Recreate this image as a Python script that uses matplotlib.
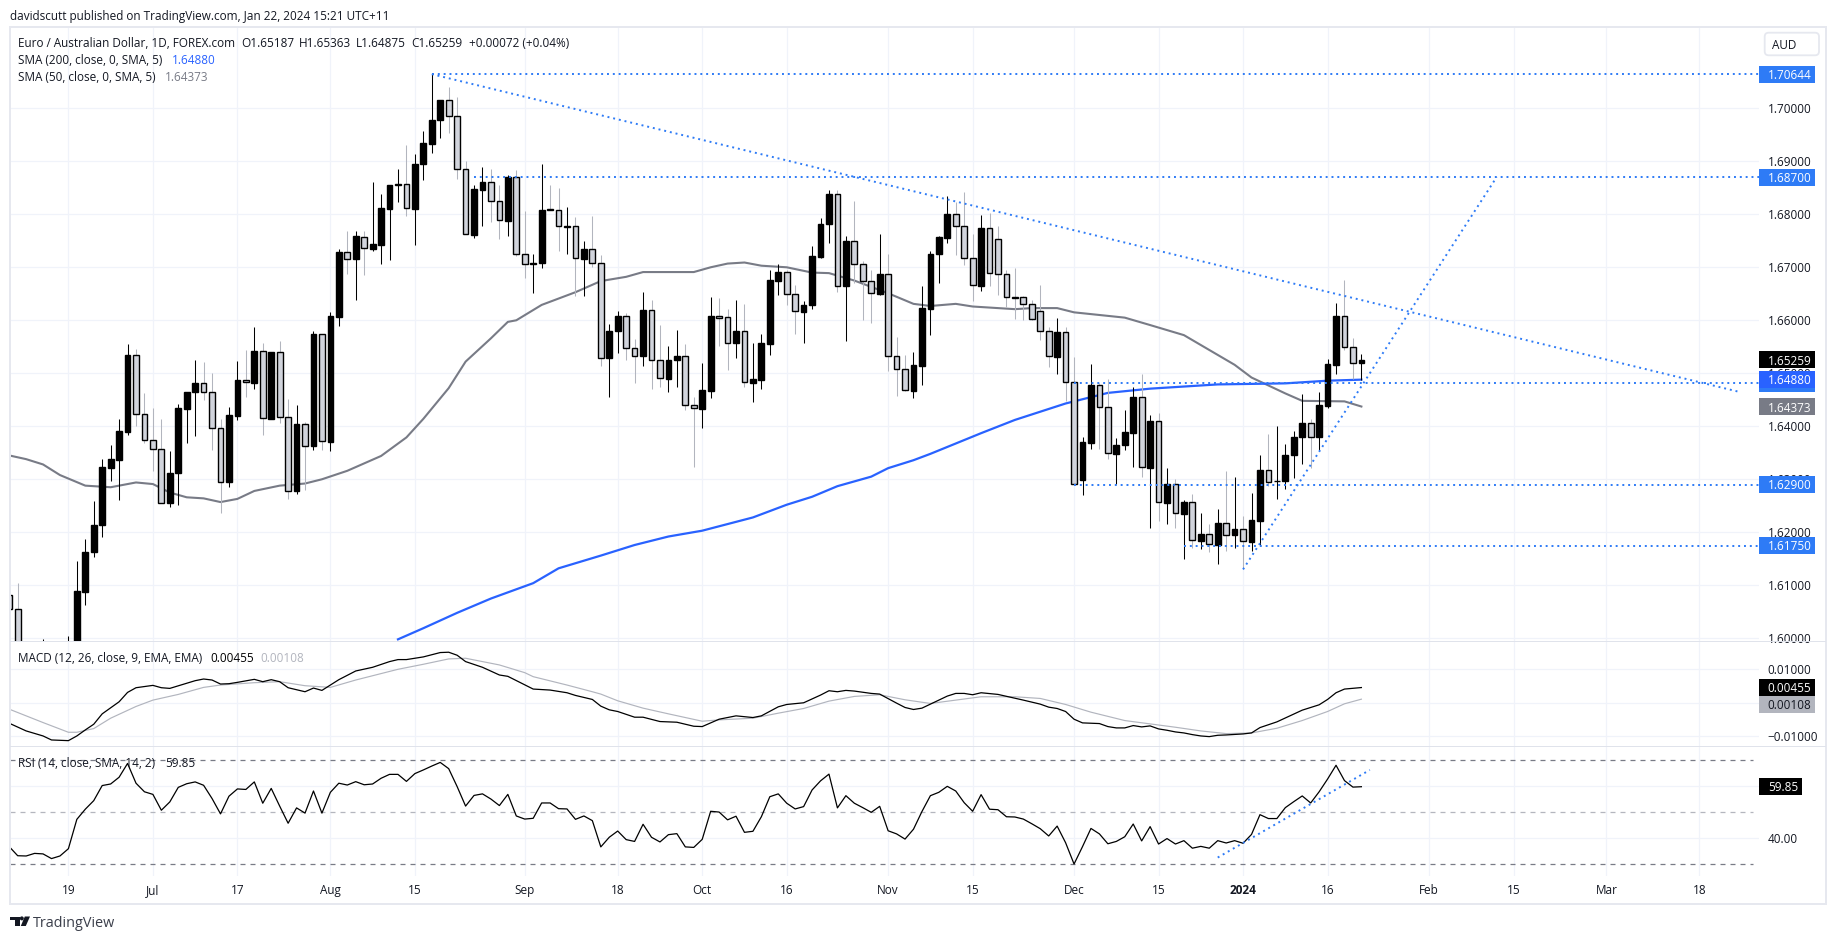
import numpy as np
import matplotlib
matplotlib.use("Agg")
import matplotlib.pyplot as plt
from matplotlib.patches import Rectangle, FancyBboxPatch, Polygon, Circle

W, H = 1835, 939
FONT = "Open Sans"
plt.rcParams["font.family"] = [FONT, "DejaVu Sans"]

# daily candles, first entry is bar -7 (bar 0 is Jun 19)
first_bar = -7
opens = [
    1.6081, 1.6055, 1.5960, 1.5945, 1.5930, 1.5960, 1.5950, 1.5940,
    1.5972, 1.6088, 1.6162, 1.6213, 1.6322, 1.6337, 1.6390, 1.6535, 1.6423, 1.6374,
    1.6357, 1.6256, 1.6311, 1.6433, 1.6464, 1.6481, 1.6464, 1.6396, 1.6294, 1.6420,
    1.6487, 1.6482, 1.6542, 1.6414, 1.6540, 1.6417, 1.6277, 1.6404, 1.6362, 1.6574,
    1.6371, 1.6607, 1.6728, 1.6716, 1.6758, 1.6735, 1.6742, 1.6810, 1.6855, 1.6857,
    1.6810, 1.6894, 1.6933, 1.6977, 1.7016, 1.6985, 1.6885, 1.6761, 1.6846, 1.6860,
    1.6826, 1.6788, 1.6870, 1.6725, 1.6706, 1.6709, 1.6810, 1.6809, 1.6776, 1.6777,
    1.6716, 1.6734, 1.6709, 1.6528, 1.6579, 1.6609, 1.6547, 1.6533, 1.6619, 1.6525,
    1.6490, 1.6526, 1.6532, 1.6440, 1.6433, 1.6467, 1.6608, 1.6606, 1.6558, 1.6579,
    1.6482, 1.6488, 1.6556, 1.6675, 1.6691, 1.6649, 1.6616, 1.6628, 1.6720, 1.6781,
    1.6838, 1.6664, 1.6749, 1.6706, 1.6675, 1.6650, 1.6687, 1.6532, 1.6508, 1.6467,
    1.6514, 1.6622, 1.6726, 1.6756, 1.6800, 1.6777, 1.6717, 1.6665, 1.6774, 1.6753,
    1.6687, 1.6643, 1.6643, 1.6630, 1.6617, 1.6579, 1.6531, 1.6577, 1.6483, 1.6299,
    1.6369, 1.6477, 1.6436, 1.6348, 1.6364, 1.6388, 1.6455, 1.6322, 1.6410, 1.6256,
    1.6291, 1.6235, 1.6257, 1.6184, 1.6196, 1.6176, 1.6217, 1.6194, 1.6206, 1.6182,
    1.6222, 1.6317, 1.6296, 1.6296, 1.6345, 1.6379, 1.6406, 1.6380, 1.6439, 1.6516,
    1.6608, 1.6549, 1.65187,
]
closes = [
    1.6055, 1.5965, 1.5945, 1.5930, 1.5960, 1.5950, 1.5940, 1.5972,
    1.6089, 1.6162, 1.6214, 1.6323, 1.6338, 1.6391, 1.6535, 1.6423, 1.6374, 1.6357,
    1.6256, 1.6312, 1.6434, 1.6465, 1.6482, 1.6464, 1.6396, 1.6294, 1.6421, 1.6487,
    1.6483, 1.6542, 1.6415, 1.6540, 1.6417, 1.6277, 1.6404, 1.6362, 1.6574, 1.6372,
    1.6608, 1.6728, 1.6716, 1.6759, 1.6736, 1.6743, 1.6812, 1.6855, 1.6857, 1.6811,
    1.6895, 1.6934, 1.6977, 1.7016, 1.6985, 1.6885, 1.6762, 1.6847, 1.6860, 1.6826,
    1.6789, 1.6870, 1.6725, 1.6706, 1.6709, 1.6809, 1.6809, 1.6777, 1.6778, 1.6717,
    1.6734, 1.6709, 1.6528, 1.6579, 1.6609, 1.6547, 1.6533, 1.6619, 1.6525, 1.6491,
    1.6526, 1.6533, 1.6440, 1.6434, 1.6469, 1.6608, 1.6605, 1.6558, 1.6579, 1.6483,
    1.6489, 1.6557, 1.6676, 1.6691, 1.6649, 1.6617, 1.6628, 1.6721, 1.6782, 1.6838,
    1.6664, 1.6749, 1.6706, 1.6675, 1.6651, 1.6687, 1.6532, 1.6508, 1.6468, 1.6516,
    1.6623, 1.6726, 1.6757, 1.6801, 1.6777, 1.6717, 1.6666, 1.6774, 1.6689, 1.6687,
    1.6643, 1.6642, 1.6630, 1.6602, 1.6579, 1.6532, 1.6577, 1.6483, 1.6292, 1.6370,
    1.6477, 1.6436, 1.6349, 1.6365, 1.6389, 1.6455, 1.6323, 1.6410, 1.6257, 1.6291,
    1.6236, 1.6257, 1.6185, 1.6197, 1.6177, 1.6217, 1.6194, 1.6206, 1.6183, 1.6223,
    1.6318, 1.6294, 1.6297, 1.6345, 1.6379, 1.6406, 1.6380, 1.6440, 1.6517, 1.6608,
    1.6549, 1.6519, 1.65259,
]
highs = [
    1.6100, 1.6104, 1.5975, 1.5960, 1.5999, 1.5980, 1.5970, 1.6004,
    1.6146, 1.6187, 1.6259, 1.6338, 1.6365, 1.6414, 1.6555, 1.6546, 1.6462, 1.6434,
    1.6414, 1.6353, 1.6442, 1.6465, 1.6525, 1.6522, 1.6500, 1.6414, 1.6436, 1.6523,
    1.6544, 1.6588, 1.6557, 1.6540, 1.6561, 1.6452, 1.6440, 1.6408, 1.6580, 1.6575,
    1.6616, 1.6734, 1.6769, 1.6769, 1.6769, 1.6861, 1.6838, 1.6855, 1.6886, 1.6931,
    1.6914, 1.6957, 1.70644, 1.7016, 1.7040, 1.7021, 1.6900, 1.6855, 1.6889, 1.6886,
    1.6855, 1.6874, 1.6884, 1.6807, 1.6725, 1.6895, 1.6855, 1.6849, 1.6814, 1.6794,
    1.6749, 1.6797, 1.6723, 1.6593, 1.6618, 1.6613, 1.6565, 1.6653, 1.6638, 1.6591,
    1.6552, 1.6582, 1.6555, 1.6456, 1.6519, 1.6644, 1.6642, 1.6621, 1.6638, 1.6631,
    1.6557, 1.6574, 1.6694, 1.6706, 1.6695, 1.6667, 1.6636, 1.6740, 1.6793, 1.6846,
    1.6846, 1.6759, 1.6825, 1.6712, 1.6694, 1.6763, 1.6726, 1.6569, 1.6535, 1.6540,
    1.6665, 1.6731, 1.6759, 1.6835, 1.6824, 1.6842, 1.6763, 1.6799, 1.6802, 1.6778,
    1.6695, 1.6699, 1.6645, 1.6638, 1.6667, 1.6588, 1.6604, 1.6588, 1.6530, 1.6380,
    1.6518, 1.6481, 1.6489, 1.6377, 1.6431, 1.6474, 1.6499, 1.6421, 1.6425, 1.6321,
    1.6300, 1.6261, 1.6272, 1.6236, 1.6216, 1.6244, 1.6316, 1.6304, 1.6230, 1.6275,
    1.6345, 1.6386, 1.6401, 1.6367, 1.6391, 1.6460, 1.6414, 1.6464, 1.6527, 1.6633,
    1.6676, 1.6566, 1.65363,
]
lows = [
    1.6040, 1.5950, 1.5930, 1.5920, 1.5925, 1.5940, 1.5930, 1.5935,
    1.5950, 1.6062, 1.6154, 1.6192, 1.6297, 1.6260, 1.6384, 1.6401, 1.6368, 1.6316,
    1.6255, 1.6248, 1.6252, 1.6369, 1.6382, 1.6450, 1.6355, 1.6236, 1.6286, 1.6411,
    1.6456, 1.6471, 1.6384, 1.6414, 1.6406, 1.6263, 1.6273, 1.6280, 1.6355, 1.6355,
    1.6354, 1.6590, 1.6687, 1.6638, 1.6686, 1.6731, 1.6706, 1.6714, 1.6824, 1.6797,
    1.6742, 1.6865, 1.6916, 1.6944, 1.6954, 1.6867, 1.6762, 1.6756, 1.6777, 1.6786,
    1.6754, 1.6759, 1.6721, 1.6679, 1.6652, 1.6699, 1.6808, 1.6731, 1.6725, 1.6646,
    1.6646, 1.6701, 1.6514, 1.6456, 1.6538, 1.6526, 1.6481, 1.6513, 1.6470, 1.6475,
    1.6465, 1.6474, 1.6430, 1.6323, 1.6396, 1.6454, 1.6552, 1.6507, 1.6528, 1.6475,
    1.6446, 1.6470, 1.6535, 1.6647, 1.6629, 1.6575, 1.6557, 1.6621, 1.6717, 1.6745,
    1.6653, 1.6560, 1.6671, 1.6601, 1.6594, 1.6647, 1.6505, 1.6458, 1.6467, 1.6454,
    1.6477, 1.6573, 1.6671, 1.6745, 1.6723, 1.6704, 1.6637, 1.6656, 1.6665, 1.6647,
    1.6626, 1.6602, 1.6600, 1.6601, 1.6562, 1.6511, 1.6499, 1.6448, 1.6291, 1.6270,
    1.6357, 1.6358, 1.6338, 1.6291, 1.6355, 1.6324, 1.6305, 1.6209, 1.6222, 1.6216,
    1.6209, 1.6150, 1.6170, 1.6169, 1.6163, 1.6141, 1.6165, 1.6170, 1.6130, 1.6165,
    1.6176, 1.6287, 1.6263, 1.6282, 1.6302, 1.6328, 1.6322, 1.6355, 1.6435, 1.6499,
    1.6543, 1.6489, 1.64875,
]

sma50_bars = [-7, -5, -3, -1, 2, 5, 8, 10, 12, 14, 16, 18, 20, 22, 25, 28, 30, 33, 37, 40, 42,
              45, 47, 50, 52, 53, 56, 60, 63, 66, 68, 74, 76, 78, 80, 82, 85, 88, 90, 93, 97,
              100, 102, 105, 107, 112, 114, 117, 119, 125, 128, 132, 135, 138, 140, 144, 146,
              151, 153]
sma50 = [1.6345, 1.6338, 1.6328, 1.6308, 1.6288, 1.6285, 1.6294, 1.6291, 1.6275, 1.6266, 1.6264,
         1.6257, 1.6263, 1.6278, 1.6288, 1.6292, 1.6300, 1.6316, 1.6344, 1.6379, 1.6414, 1.6472,
         1.6522, 1.6566, 1.6597, 1.6600, 1.6629, 1.6653, 1.6674, 1.6682, 1.6691, 1.6691, 1.6700,
         1.6707, 1.6709, 1.6703, 1.6700, 1.6690, 1.6689, 1.6675, 1.6651, 1.6631, 1.6627, 1.6631,
         1.6626, 1.6621, 1.6623, 1.6623, 1.6615, 1.6605, 1.6591, 1.6572, 1.6544, 1.6516, 1.6492,
         1.6462, 1.6448, 1.6447, 1.64373]
sma200_bars = [39, 42, 46, 50, 55, 58, 63, 67, 71, 75, 81, 85, 88, 91, 95, 97, 100, 102, 108, 112,
               118, 123, 128, 136, 144, 149, 153]
sma200 = [1.5998, 1.6019, 1.6048, 1.6075, 1.6104, 1.6132, 1.6156, 1.6176, 1.6192, 1.6203, 1.6228,
          1.6252, 1.6267, 1.6287, 1.6305, 1.6321, 1.6336, 1.6348, 1.6387, 1.6412, 1.6443, 1.6463,
          1.6471, 1.6479, 1.6481, 1.6486, 1.6488]

macd_bars = [-7, -5, -3, -2, 0, 1, 2, 3, 4, 6, 7, 8, 10, 11, 12, 15, 16, 17, 18, 19, 20, 22, 23, 24,
             25, 26, 28, 29, 30, 32, 34, 36, 38, 39, 40, 42, 44, 45, 46, 47, 49, 51, 52, 55, 57, 59,
             60, 62, 63, 64, 65, 67, 68, 70, 72, 74, 75, 77, 79, 81, 82, 84, 85, 87, 89, 90, 91, 92,
             93, 95, 96, 98, 99, 100, 101, 104, 105, 106, 107, 108, 110, 113, 115, 116, 117, 118,
             119, 120, 122, 123, 124, 125, 126, 127, 128, 129, 130, 131, 132, 133, 134, 135, 136,
             137, 139, 140, 141, 143, 146, 148, 149, 150, 151, 153]
macd = [-.0061, -.0084, -.0099, -.0111, -.0113, -.0099, -.0081, -.0064, -.0033, .0003, .0031, .0045,
        .0052, .0045, .0043, .0066, .0071, .0068, .0056, .0057, .0061, .0070, .0063, .0069, .0063,
        .0045, .0033, .0044, .0037, .0069, .0095, .0106, .0123, .0129, .0129, .0137, .0150, .0151,
        .0142, .0123, .0106, .0083, .0079, .0041, .0038, .0030, .0022, .0010, -.0010, -.0021,
        -.0026, -.0043, -.0043, -.0056, -.0058, -.0070, -.0071, -.0049, -.0039, -.0044, -.0039,
        -.0012, -.0005, .0000, .0023, .0036, .0033, .0037, .0035, .0028, .0026, -.0001, -.0014,
        -.0020, -.0016, .0020, .0028, .0028, .0024, .0030, .0025, .0008, -.0004, -.0013, -.0017,
        -.0026, -.0049, -.0060, -.0062, -.0071, -.0075, -.0075, -.0068, -.0072, -.0069, -.0078,
        -.0082, -.0087, -.0090, -.0095, -.0099, -.0101, -.0097, -.0096, -.0093, -.0090, -.0074,
        -.0057, -.0022, -.0006, .0010, .0030, .0041, .00455]
signal_bars = [-7, -3, 0, 1, 3, 5, 8, 10, 13, 16, 18, 22, 25, 28, 31, 34, 39, 42, 45, 47, 51, 54, 55,
               59, 62, 63, 65, 68, 71, 75, 77, 81, 84, 87, 90, 93, 96, 99, 102, 105, 108, 112, 115,
               118, 121, 125, 128, 131, 134, 137, 140, 143, 146, 149, 151, 153]
signal = [-.0019, -.0059, -.0088, -.0088, -.0077, -.0046, -.0011, .0008, .0025, .0046, .0053, .0060,
          .0063, .0051, .0046, .0068, .0100, .0115, .0131, .0133, .0113, .0090, .0078, .0053, .0033,
          .0026, .0006, -.0016, -.0033, -.0055, -.0051, -.0046, -.0031, -.0017, .0005, .0019, .0024,
          .0009, -.0002, .0008, .0018, .0018, .0013, -.0005, -.0028, -.0053, -.0063, -.0073, -.0084,
          -.0092, -.0090, -.0076, -.0053, -.0026, -.0003, .00108]

rsi = [
    36.8, 33.3, 33.2, 34.2, 34.0, 32.2, 33.2, 36.0,
    47.3, 51.2, 54.5, 60.3, 60.9, 63.5, 68.8, 61.2, 57.9, 56.9,
    50.8, 54.0, 59.6, 61.0, 61.7, 60.4, 55.3, 49.4, 56.2, 59.0,
    58.8, 61.7, 53.5, 59.2, 52.4, 45.8, 51.7, 49.7, 58.2, 49.7,
    57.7, 61.2, 60.5, 61.8, 60.6, 60.9, 63.1, 64.6, 64.6, 61.9,
    64.9, 66.3, 67.8, 69.2, 66.8, 59.9, 52.4, 56.5, 57.1, 55.1,
    52.6, 56.9, 48.6, 47.4, 47.7, 53.6, 53.6, 51.4, 51.3, 47.3,
    48.6, 46.8, 36.7, 40.4, 42.8, 39.5, 38.8, 45.4, 40.4, 38.6,
    41.4, 41.8, 36.7, 36.5, 39.6, 50.4, 50.1, 47.1, 48.5, 42.3,
    42.7, 48.3, 56.0, 57.1, 53.5, 51.3, 52.2, 58.6, 62.1, 64.7,
    51.7, 56.4, 53.5, 51.8, 50.0, 52.3, 42.9, 41.7, 39.7, 43.5,
    50.3, 56.4, 57.7, 60.0, 58.2, 53.7, 50.4, 56.8, 51.2, 51.0,
    48.3, 48.2, 47.4, 45.6, 43.7, 40.9, 44.7, 38.3, 30.1, 36.8,
    43.8, 41.7, 37.9, 38.8, 40.6, 45.5, 39.0, 44.5, 37.8, 39.9,
    37.8, 39.1, 36.2, 36.9, 36.2, 39.1, 38.2, 39.1, 38.1, 41.5,
    49.1, 47.6, 47.6, 51.8, 54.1, 56.3, 53.6, 57.9, 62.8, 68.1,
    62.2, 59.7, 59.85,
]

# horizontal levels: price, first bar
level_prices = [1.70644, 1.687, 1.6482, 1.629, 1.6175]
level_starts = [43, 48, 119, 119, 132]
# sloped drawings: bars and values of their two ends
trend_down_bars, trend_down_vals = [43, 197.7], [1.70644, 1.6465]
trend_up_bars, trend_up_vals = [139, 169], [1.6130, 1.687]
rsi_trend_bars, rsi_trend_vals = [136, 154], [32.6, 66.3]

tick_bars = [0, 10, 20, 31, 41, 54, 65, 75, 85, 97, 107, 119, 129, 139, 149, 161, 171, 182, 193]
tick_labels = ["19", "Jul", "17", "Aug", "15", "Sep", "18", "Oct", "16", "Nov", "15", "Dec", "15",
               "2024", "16", "Feb", "15", "Mar", "18"]
price_ticks = [1.60, 1.61, 1.62, 1.63, 1.64, 1.65, 1.66, 1.67, 1.68, 1.69, 1.70]
macd_ticks = [-0.01, 0.0, 0.01]
macd_tick_labels = ["\u22120.01000", "0.00000", "0.01000"]
rsi_ticks = [40, 60]

BLUE = "#2962ff"
DOT = "#2e7bf6"
GREY = "#787b86"
LIGHT = "#b2b5be"
BODY = "#d1d4dc"
TEXT = "#131722"
GRID = "#f0f3fa"
EDGE = "#e6e8ef"
SIZE = 8.5

fig = plt.figure(figsize=(W / 100, H / 100), dpi=100, facecolor="white")


def pane(top, bottom):
    left, right = 10, 1759
    ax = fig.add_axes([left / W, 1 - bottom / H, (right - left) / W, (bottom - top) / H])
    for s in ax.spines.values():
        s.set_visible(False)
    ax.set_xlim(-6.91, 200.05)
    ax.set_xticks(tick_bars)
    ax.grid(True, color=GRID, lw=0.9)
    ax.set_axisbelow(True)
    ax.yaxis.tick_right()
    ax.tick_params(axis="y", length=0, pad=6.3, labelsize=SIZE, labelcolor=TEXT)
    return ax


def put(x, y, s, color=TEXT, size=SIZE, zorder=3, **kw):
    fig.text(x / W, 1 - y / H, s, color=color, fontsize=size, va="center_baseline", ha="left",
             zorder=zorder, **kw)


def tag(x0, x1, yc, color, label=None, tc="white", h=17):
    fig.patches.append(Rectangle((x0 / W, 1 - (yc + h / 2) / H), (x1 - x0) / W, h / H,
                                 transform=fig.transFigure, fc=color, ec="none", zorder=2))
    if label:
        put(1767.7, yc, label, color=tc, zorder=3, fontweight="medium")


# price pane
ax1 = pane(28, 641.3)
ax1.set_ylim(1.59943, 1.71515)
ax1.set_yticks(price_ticks)
ax1.set_yticklabels(["%.5f" % v for v in price_ticks])
ax1.tick_params(axis="x", length=0, labelbottom=False)

bars = np.arange(first_bar, first_bar + len(opens))
o, c, hi, lo = map(np.array, (opens, closes, highs, lows))
up = c >= o

ax1.plot(sma50_bars, sma50, color=GREY, lw=1.5, zorder=2)
ax1.plot(sma200_bars, sma200, color=BLUE, lw=1.6, zorder=2)
ax1.vlines(bars[up], lo[up], hi[up], color="black", lw=0.75, zorder=3)
ax1.vlines(bars[~up], lo[~up], hi[~up], color=LIGHT, lw=0.75, zorder=3)
ax1.bar(bars[up], (c - o)[up], bottom=o[up], width=0.68, color="black", edgecolor="black", lw=1, zorder=4)
ax1.bar(bars[~up], (o - c)[~up], bottom=c[~up], width=0.68, color=BODY, edgecolor="black", lw=1, zorder=4)

dots = dict(color=DOT, lw=1.4, linestyle=(0, (1, 2)), dash_capstyle="butt", zorder=5)
for p, s in zip(level_prices, level_starts):
    ax1.plot([s, 200.05], [p, p], **dots)
ax1.plot(trend_down_bars, trend_down_vals, **dots)
ax1.plot(trend_up_bars, trend_up_vals, **dots)

# macd pane
ax2 = pane(641.3, 746.3)
ax2.set_ylim(-0.01299, 0.01836)
ax2.set_yticks(macd_ticks)
ax2.set_yticklabels(macd_tick_labels)
ax2.tick_params(axis="x", length=0, labelbottom=False)
ax2.plot(signal_bars, signal, color=LIGHT, lw=0.85, zorder=2)
ax2.plot(macd_bars, macd, color="black", lw=0.9, zorder=3)

# rsi pane
ax3 = pane(746.3, 876)
ax3.set_ylim(25.5, 75.4)
ax3.set_yticks(rsi_ticks)
ax3.set_yticklabels(["%.2f" % v for v in rsi_ticks])
ax3.set_xticklabels(tick_labels)
ax3.tick_params(axis="x", length=0, pad=5.5, labelsize=SIZE, labelcolor=TEXT)
for lab in ax3.get_xticklabels():
    if lab.get_text() == "2024":
        lab.set_fontweight("bold")
ax3.hlines([70, 30], -6.91, 199.3, color=GREY, lw=0.9, linestyles=(0, (4, 4)), zorder=2)
ax3.hlines([50], -6.91, 199.3, color="#b4b6be", lw=0.9, linestyles=(0, (4, 4)), zorder=2)
ax3.plot(bars, rsi, color="black", lw=0.9, zorder=3)
ax3.plot(rsi_trend_bars, rsi_trend_vals, **dots)

# outer frame and pane separators
for x, y, w, h, col in [(9, 26, 1817.5, 2.2, EDGE), (9, 903, 1817.5, 2.2, EDGE),
                        (9, 26, 1.8, 879, EDGE), (1824.5, 26, 2, 879, EDGE),
                        (10, 640.5, 1816, 1.5, "#e0e3eb"), (10, 745.5, 1816, 1.5, "#e0e3eb")]:
    fig.patches.append(Rectangle((x / W, 1 - (y + h) / H), w / W, h / H, transform=fig.transFigure,
                                 fc=col, ec="none", zorder=1.5))

# value tags on the right scale
tag(1759, 1815, 74, DOT, "1.70644")
tag(1759, 1815, 177.5, DOT, "1.68700")
tag(1759, 1815, 359.7, "black", "1.65259")
tag(1759, 1815, 383, DOT)
tag(1759, 1815, 379.3, BLUE, "1.64880")
tag(1759, 1815, 406.7, GREY, "1.64373")
tag(1759, 1815, 484.3, DOT, "1.62900")
tag(1759, 1815, 545.3, DOT, "1.61750")
tag(1759, 1815, 687.3, "black", "0.00455")
tag(1759, 1815, 704.3, LIGHT, "0.00108", tc=TEXT)
tag(1759, 1802, 786.3, "black", "59.85")

# AUD button
fig.patches.append(FancyBboxPatch((1764.7, H - 55.3), 54.3, 22.6, boxstyle="round,pad=0,rounding_size=4",
                                  transform=None, fc="white", ec=EDGE, lw=1.3, zorder=2,
                                  mutation_aspect=1))
put(1772, 44.3, "AUD")

# header and legends
put(10, 14.7, "davidscutt published on TradingView.com, Jan 22, 2024 15:21 UTC+11")
put(18.2, 41.7, "Euro / Australian Dollar, 1D, FOREX.com")
put(241.6, 41.7, "O1.65187")
put(299.3, 41.7, "H1.65363")
put(356.3, 41.7, "L1.64875")
put(411.6, 41.7, "C1.65259")
put(468.6, 41.7, "+0.00072 (+0.04%)")
put(18.2, 58.7, "SMA (200, close, 0, SMA, 5)")
put(171.6, 58.7, "1.64880", color=BLUE)
put(18.2, 75.7, "SMA (50, close, 0, SMA, 5)")
put(165.3, 75.7, "1.64373", color=GREY)
put(18.2, 656.7, "MACD (12, 26, close, 9, EMA, EMA)")
put(210.8, 656.7, "0.00455", color="black")
put(260.2, 656.7, "0.00108", color=LIGHT)
put(18.2, 761.7, "RSI (14, close, SMA, 14, 2)")
put(165.3, 761.7, "59.85")

# TradingView logo
logo = dict(transform=None, fc=TEXT, ec="none", zorder=3)
fig.patches.append(Polygon([(10, H - 916.5), (19.5, H - 916.5), (19.5, H - 926), (14.5, H - 926),
                            (14.5, H - 920.3), (10, H - 920.3)], **logo))
fig.patches.append(Circle((21.8, H - 918.4), 2, **logo))
fig.patches.append(Polygon([(24.8, H - 916.5), (30, H - 916.5), (25.8, H - 926), (20.8, H - 926)], **logo))
put(33, 921.5, "TradingView", color="#3a3e4a", size=10.4)

fig.savefig("out.png", dpi=100, facecolor="white")
